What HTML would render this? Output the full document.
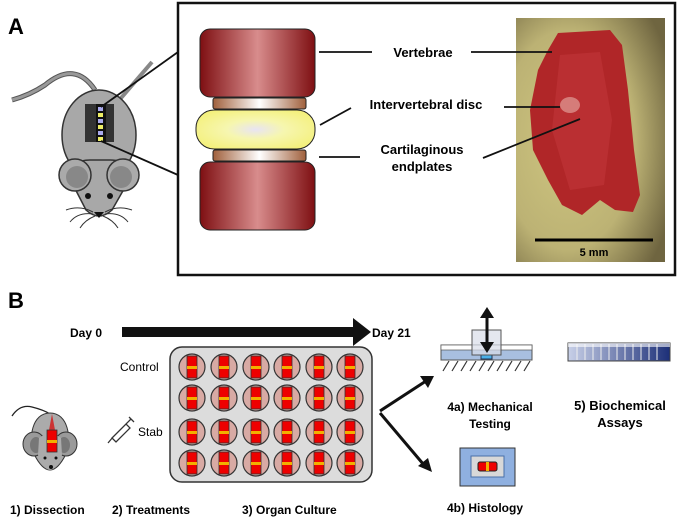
<!DOCTYPE html>
<html><head><meta charset="utf-8"><style>
html,body{margin:0;padding:0;background:#fff;}
svg{display:block;}
text{font-family:"Liberation Sans",Arial,sans-serif;}
</style></head><body>
<svg width="700" height="526" viewBox="0 0 700 526" xmlns="http://www.w3.org/2000/svg">
<defs>
<linearGradient id="vert" x1="0" x2="1" y1="0" y2="0">
<stop offset="0" stop-color="#7e0f12"/><stop offset="0.5" stop-color="#d88c8c"/><stop offset="1" stop-color="#7e0f12"/></linearGradient>
<linearGradient id="ep" x1="0" x2="1"><stop offset="0" stop-color="#a0603c"/><stop offset="0.5" stop-color="#fff"/><stop offset="1" stop-color="#a0603c"/></linearGradient>
<radialGradient id="disc" cx="0.5" cy="0.5" r="0.6"><stop offset="0" stop-color="#e8e4f4"/><stop offset="0.4" stop-color="#f6f6b0"/><stop offset="1" stop-color="#f4f07a"/></radialGradient>
<radialGradient id="photo" cx="0.35" cy="0.5" r="0.75"><stop offset="0" stop-color="#cfc680"/><stop offset="0.6" stop-color="#bcb274"/><stop offset="1" stop-color="#6f6540"/></radialGradient>
<linearGradient id="strip" x1="0" x2="1"><stop offset="0" stop-color="#c8d0e8"/><stop offset="1" stop-color="#1c2f78"/></linearGradient>
</defs>

<!-- Panel A -->
<text x="8" y="34" font-size="22" font-weight="bold">A</text>
<rect x="178" y="3" width="497" height="272" fill="#fff" stroke="#111" stroke-width="2.5"/>
<!-- mouse A -->
<path d="M12 100 Q30 95 45 85 Q75 60 95 90" fill="none" stroke="#555" stroke-width="5"/>
<path d="M12 100 Q30 95 45 85 Q75 60 95 90" fill="none" stroke="#999" stroke-width="3"/>
<path d="M115 105 L152 62" stroke="#888" stroke-width="4"/>
<ellipse cx="99" cy="135" rx="37" ry="45" fill="#a8a8a8" stroke="#333" stroke-width="1.5"/>
<path d="M68 175 Q72 160 90 160 L110 160 Q128 160 132 175 L112 210 Q99 222 86 210 Z" fill="#a8a8a8" stroke="#333" stroke-width="1.5"/>
<ellipse cx="75" cy="175" rx="16" ry="16" fill="#aaa" stroke="#333" stroke-width="1.5"/>
<ellipse cx="77" cy="177" rx="11" ry="11" fill="#888"/>
<ellipse cx="123" cy="175" rx="16" ry="16" fill="#aaa" stroke="#333" stroke-width="1.5"/>
<ellipse cx="121" cy="177" rx="11" ry="11" fill="#888"/>
<circle cx="88" cy="196" r="3" fill="#111"/><circle cx="110" cy="196" r="3" fill="#111"/>
<path d="M94 212 L104 212 L99 218 Z" fill="#111"/>
<path d="M93 212 Q80 205 66 210 M93 214 Q78 212 70 222 M95 216 Q85 220 80 228 M105 212 Q118 205 132 210 M105 214 Q120 212 128 222 M103 216 Q113 220 118 228" stroke="#333" fill="none" stroke-width="1"/>
<rect x="85" y="104" width="29" height="38" fill="#333"/>
<rect x="96" y="104" width="10" height="38" fill="#111"/>
<g fill="#ee6">
<rect x="98" y="107" width="5" height="4" fill="#aae"/><rect x="98" y="113" width="5" height="4"/><rect x="98" y="119" width="5" height="4" fill="#aae"/><rect x="98" y="125" width="5" height="4"/><rect x="98" y="131" width="5" height="4" fill="#aae"/><rect x="98" y="137" width="5" height="4"/></g>
<line x1="101" y1="107" x2="178" y2="52" stroke="#111" stroke-width="1.8"/>
<line x1="101" y1="141" x2="178" y2="175" stroke="#111" stroke-width="1.8"/>
<!-- spine schematic -->
<rect x="200" y="29" width="115" height="68" rx="10" fill="url(#vert)" stroke="#222"/>
<rect x="213" y="98" width="93" height="11" rx="2" fill="url(#ep)" stroke="#222"/>
<rect x="196" y="110" width="119" height="39" rx="18" fill="url(#disc)" stroke="#222"/>
<rect x="213" y="150" width="93" height="11" rx="2" fill="url(#ep)" stroke="#222"/>
<rect x="200" y="162" width="115" height="68" rx="10" fill="url(#vert)" stroke="#222"/>
<!-- photo -->
<rect x="516" y="18" width="149" height="244" fill="url(#photo)"/>
<path d="M558 33 L610 30 L622 45 L628 90 L634 150 L640 195 L633 212 L615 210 L600 200 L582 215 L562 205 L548 180 L533 150 L530 110 L538 70 L548 50 Z" fill="#b02628"/>
<path d="M560 55 L600 52 L612 120 L604 185 L570 190 L552 130 Z" fill="#c23638" opacity="0.6"/>
<ellipse cx="570" cy="105" rx="10" ry="8" fill="#e8b0a8" opacity="0.6"/>
<line x1="535" y1="240" x2="653" y2="240" stroke="#000" stroke-width="3"/>
<text x="594" y="256" font-size="11" font-weight="bold" text-anchor="middle">5 mm</text>
<!-- labels -->
<g font-size="13" font-weight="bold" text-anchor="middle">
<text x="423" y="57">Vertebrae</text>
<text x="426" y="109">Intervertebral disc</text>
<text x="422" y="154">Cartilaginous</text>
<text x="422" y="171">endplates</text>
</g>
<g stroke="#111" stroke-width="1.8">
<line x1="319" y1="52" x2="372" y2="52"/><line x1="471" y1="52" x2="552" y2="52"/>
<line x1="320" y1="125" x2="351" y2="108"/><line x1="504" y1="107" x2="560" y2="107"/>
<line x1="319" y1="157" x2="360" y2="157"/><line x1="483" y1="158" x2="580" y2="119"/>
</g>

<!-- Panel B -->
<text x="8" y="308" font-size="22" font-weight="bold">B</text>
<text x="70" y="337" font-size="12" font-weight="bold">Day 0</text>
<rect x="122" y="327" width="233" height="10" fill="#111"/>
<path d="M353 318 L371 332 L353 346 Z" fill="#111"/>
<text x="372" y="337" font-size="12" font-weight="bold">Day 21</text>
<rect x="170" y="347" width="202" height="135" rx="12" fill="#dcdcdc" stroke="#333" stroke-width="1.5"/>
<text x="120" y="371" font-size="12">Control</text>
<text x="138" y="436" font-size="12">Stab</text>
<path d="M108 443 L113 437 M112 438 L126 424 L130 428 L116 442 Z M126 424 L131 419 M129 417 L134 422" stroke="#333" fill="#fff" stroke-width="1.3"/>
<!-- small mouse -->
<path d="M12 416 Q20 404 32 407 Q44 410 50 414" fill="none" stroke="#222" stroke-width="1.3"/>
<path d="M50 413 C68 413 72 438 66 454 Q58 470 50 470 Q42 470 34 454 C28 438 32 413 50 413 Z" fill="#ababab" stroke="#333"/>
<ellipse cx="34" cy="444" rx="11" ry="12" fill="#9a9a9a" stroke="#333"/>
<ellipse cx="36" cy="445" rx="6" ry="8" fill="#777"/>
<ellipse cx="66" cy="444" rx="11" ry="12" fill="#9a9a9a" stroke="#333"/>
<ellipse cx="64" cy="445" rx="6" ry="8" fill="#777"/>
<path d="M39 438 Q50 430 61 438 L62 455 Q56 470 50 470 Q44 470 38 455 Z" fill="#ababab"/>
<circle cx="45" cy="458" r="1.5" fill="#111"/><circle cx="56" cy="458" r="1.5" fill="#111"/>
<circle cx="51" cy="467" r="2" fill="#111"/>
<path d="M52 414 L49 430 L55 430 Z" fill="#c33"/>
<rect x="47" y="430" width="10" height="22" fill="#e00" stroke="#333" stroke-width="0.8"/>
<rect x="47" y="440" width="10" height="3" fill="#f2b000"/>
<g font-size="12" font-weight="bold">
<text x="10" y="514">1) Dissection</text>
<text x="112" y="514">2) Treatments</text>
<text x="242" y="514">3) Organ Culture</text>
<text x="490" y="411" text-anchor="middle">4a) Mechanical</text>
<text x="490" y="428" text-anchor="middle">Testing</text>
<text x="485" y="512" text-anchor="middle">4b) Histology</text>
</g>
<g font-size="13" font-weight="bold" text-anchor="middle">
<text x="620" y="410">5) Biochemical</text>
<text x="620" y="427">Assays</text>
</g>
<!-- arrows right -->
<g stroke="#111" stroke-width="3">
<line x1="380" y1="411" x2="426" y2="381"/>
<line x1="380" y1="413" x2="424" y2="465"/>
</g>
<path d="M434 376 L420 376 L428 388 Z" fill="#111"/>
<path d="M432 472 L418 466 L428 458 Z" fill="#111"/>
<!-- mechanical -->
<rect x="441" y="345" width="91" height="15" fill="#a8bfe0" stroke="#555"/>
<rect x="441" y="345" width="91" height="5" fill="#fff" stroke="#555" stroke-width="0.7"/>
<rect x="481" y="355" width="11" height="4" fill="#4ab0e8" stroke="#235"/>
<rect x="472" y="330" width="29" height="25" fill="#d8dde8" fill-opacity="0.7" stroke="#555"/>
<g stroke="#333" stroke-width="1.2">
<line x1="449" y1="361" x2="443" y2="371"/><line x1="458" y1="361" x2="452" y2="371"/><line x1="467" y1="361" x2="461" y2="371"/><line x1="476" y1="361" x2="470" y2="371"/><line x1="485" y1="361" x2="479" y2="371"/><line x1="494" y1="361" x2="488" y2="371"/><line x1="503" y1="361" x2="497" y2="371"/><line x1="512" y1="361" x2="506" y2="371"/><line x1="521" y1="361" x2="515" y2="371"/><line x1="530" y1="361" x2="524" y2="371"/>
</g>
<line x1="487" y1="316" x2="487" y2="344" stroke="#111" stroke-width="3"/>
<path d="M480 318 L487 307 L494 318 Z M480 342 L487 353 L494 342 Z" fill="#111"/>
<!-- strip -->
<rect x="568" y="343" width="102" height="18" fill="url(#strip)" stroke="#444"/>
<g stroke="#eee" stroke-width="1">
<line x1="577" y1="344" x2="577" y2="360"/><line x1="585" y1="344" x2="585" y2="360"/><line x1="593" y1="344" x2="593" y2="360"/><line x1="601" y1="344" x2="601" y2="360"/><line x1="609" y1="344" x2="609" y2="360"/><line x1="617" y1="344" x2="617" y2="360"/><line x1="625" y1="344" x2="625" y2="360"/><line x1="633" y1="344" x2="633" y2="360"/><line x1="641" y1="344" x2="641" y2="360"/><line x1="649" y1="344" x2="649" y2="360"/><line x1="657" y1="344" x2="657" y2="360"/>
</g>
<rect x="568" y="343" width="102" height="4" fill="#fff" opacity="0.6"/>
<!-- histology -->
<rect x="460" y="448" width="55" height="38" fill="#8fb0e0" stroke="#333"/>
<rect x="471" y="456" width="33" height="21" fill="#d8d8d8" stroke="#4a6fa8"/>
<rect x="478" y="462" width="19" height="9" rx="2" fill="#e00" stroke="#222"/>
<rect x="486" y="462" width="3" height="9" fill="#f2b000"/>
<!-- wells -->
<g stroke="#333" stroke-width="1.2">
<circle cx="192" cy="367" r="13" fill="#d8aaa4"/><circle cx="224" cy="367" r="13" fill="#d8aaa4"/><circle cx="256" cy="367" r="13" fill="#d8aaa4"/><circle cx="287" cy="367" r="13" fill="#d8aaa4"/><circle cx="319" cy="367" r="13" fill="#d8aaa4"/><circle cx="350" cy="367" r="13" fill="#d8aaa4"/>
<circle cx="192" cy="398" r="13" fill="#d8aaa4"/><circle cx="224" cy="398" r="13" fill="#d8aaa4"/><circle cx="256" cy="398" r="13" fill="#d8aaa4"/><circle cx="287" cy="398" r="13" fill="#d8aaa4"/><circle cx="319" cy="398" r="13" fill="#d8aaa4"/><circle cx="350" cy="398" r="13" fill="#d8aaa4"/>
<circle cx="192" cy="432" r="13" fill="#d8aaa4"/><circle cx="224" cy="432" r="13" fill="#d8aaa4"/><circle cx="256" cy="432" r="13" fill="#d8aaa4"/><circle cx="287" cy="432" r="13" fill="#d8aaa4"/><circle cx="319" cy="432" r="13" fill="#d8aaa4"/><circle cx="350" cy="432" r="13" fill="#d8aaa4"/>
<circle cx="192" cy="463" r="13" fill="#d8aaa4"/><circle cx="224" cy="463" r="13" fill="#d8aaa4"/><circle cx="256" cy="463" r="13" fill="#d8aaa4"/><circle cx="287" cy="463" r="13" fill="#d8aaa4"/><circle cx="319" cy="463" r="13" fill="#d8aaa4"/><circle cx="350" cy="463" r="13" fill="#d8aaa4"/>
</g>
<g stroke="#333" stroke-width="0.8" fill="#e00">
<rect x="187" y="356" width="10" height="22"/><rect x="219" y="356" width="10" height="22"/><rect x="251" y="356" width="10" height="22"/><rect x="282" y="356" width="10" height="22"/><rect x="314" y="356" width="10" height="22"/><rect x="345" y="356" width="10" height="22"/>
<rect x="187" y="387" width="10" height="22"/><rect x="219" y="387" width="10" height="22"/><rect x="251" y="387" width="10" height="22"/><rect x="282" y="387" width="10" height="22"/><rect x="314" y="387" width="10" height="22"/><rect x="345" y="387" width="10" height="22"/>
<rect x="187" y="421" width="10" height="22"/><rect x="219" y="421" width="10" height="22"/><rect x="251" y="421" width="10" height="22"/><rect x="282" y="421" width="10" height="22"/><rect x="314" y="421" width="10" height="22"/><rect x="345" y="421" width="10" height="22"/>
<rect x="187" y="452" width="10" height="22"/><rect x="219" y="452" width="10" height="22"/><rect x="251" y="452" width="10" height="22"/><rect x="282" y="452" width="10" height="22"/><rect x="314" y="452" width="10" height="22"/><rect x="345" y="452" width="10" height="22"/>
</g>
<g fill="#f2b000">
<rect x="187" y="366" width="10" height="3"/><rect x="219" y="366" width="10" height="3"/><rect x="251" y="366" width="10" height="3"/><rect x="282" y="366" width="10" height="3"/><rect x="314" y="366" width="10" height="3"/><rect x="345" y="366" width="10" height="3"/>
<rect x="187" y="397" width="10" height="3"/><rect x="219" y="397" width="10" height="3"/><rect x="251" y="397" width="10" height="3"/><rect x="282" y="397" width="10" height="3"/><rect x="314" y="397" width="10" height="3"/><rect x="345" y="397" width="10" height="3"/>
<rect x="187" y="431" width="10" height="3"/><rect x="219" y="431" width="10" height="3"/><rect x="251" y="431" width="10" height="3"/><rect x="282" y="431" width="10" height="3"/><rect x="314" y="431" width="10" height="3"/><rect x="345" y="431" width="10" height="3"/>
<rect x="187" y="462" width="10" height="3"/><rect x="219" y="462" width="10" height="3"/><rect x="251" y="462" width="10" height="3"/><rect x="282" y="462" width="10" height="3"/><rect x="314" y="462" width="10" height="3"/><rect x="345" y="462" width="10" height="3"/>
</g>
</svg>
</body></html>
